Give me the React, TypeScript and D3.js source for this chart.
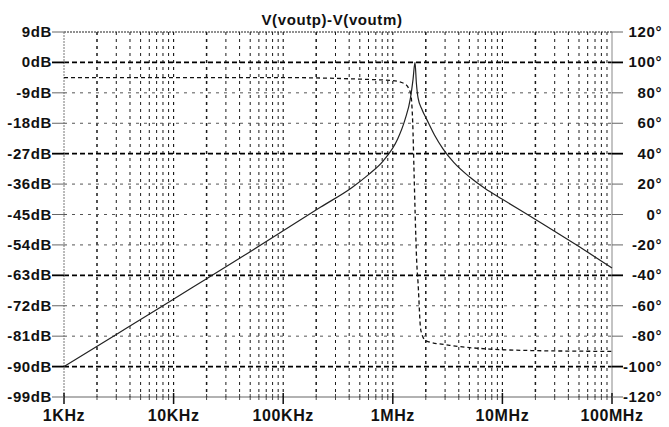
import React, { useEffect, useRef } from 'react';
import * as d3 from 'd3';

// values
const magFreq = [1e3, 3e3, 8e3, 2e4, 5e4, 1e5, 2.2e5, 4.25e5, 6e5, 8.15e5, 1.11e6, 1.29e6, 1.45e6, 1.53e6, 1.594e6, 1.64e6, 1.7e6, 1.85e6, 2.05e6, 2.4e6, 2.87e6, 3.6e6, 5.06e6, 7e6, 1e7, 2.34e7, 5e7, 1e8];
const magDb = [-90, -80.5, -72, -64, -56, -49.8, -42.8, -37, -33.2, -29.2, -22.6, -17, -10.5, -5, 0, -6, -10.5, -14, -17, -21.5, -25.6, -29.6, -34, -37.4, -40.5, -47.8, -54.5, -60.8];

const phaseFreq = [1e3, 1e5, 5e5, 1e6, 1.28e6, 1.45e6, 1.52e6, 1.56e6, 1.6e6, 1.65e6, 1.7e6, 1.8e6, 2e6, 3.3e6, 7.7e6, 2e7, 1e8];
const phaseDeg = [90, 90, 89, 88, 86, 80, 60, 30, 0, -30, -45, -76, -83, -86, -88.5, -89.5, -90];

const dbTicks = [9, 0, -9, -18, -27, -36, -45, -54, -63, -72, -81, -90, -99];
const degTicks = [120, 100, 80, 60, 40, 20, 0, -20, -40, -60, -80, -100, -120];
const heavyDb = [0, -27, -63, -90];
const freqDecades = [1e3, 1e4, 1e5, 1e6, 1e7, 1e8];
const freqLabels = ['1KHz', '10KHz', '100KHz', '1MHz', '10MHz', '100MHz'];
const title = 'V(voutp)-V(voutm)';

const W = 669, H = 427;
const left = 64, right = 612, top = 32, bottom = 397;
const font = '"Liberation Sans", Arial, sans-serif';

export default function App() {
	const node = useRef<SVGSVGElement>(null);

	useEffect(() => {
		const svg = d3.select(node.current);
		svg.selectAll('*').remove();

		const x = d3.scaleLog().domain([1e3, 1e8]).range([left, right]);
		const yDb = d3.scaleLinear().domain([-99, 9]).range([bottom, top]);
		const yDeg = d3.scaleLinear().domain([-120, 120]).range([bottom, top]);

		svg.append('rect').attr('width', W).attr('height', H).attr('fill', '#fff');

		// minor log positions 2..9 in each decade
		const minors: number[] = [];
		freqDecades.slice(0, -1).forEach(d => {
			for (let m = 2; m <= 9; m++) minors.push(d * m);
		});

		const grid = svg.append('g');

		grid.selectAll('.vminor')
			.data(minors)
			.enter().append('line')
			.attr('x1', d => x(d)).attr('x2', d => x(d))
			.attr('y1', top).attr('y2', bottom)
			.attr('stroke', '#1a1a1a')
			.attr('stroke-width', d => (Math.round(d / Math.pow(10, Math.floor(Math.log10(d)))) === 2 ? 1.5 : 1))
			.attr('stroke-dasharray', '3,4');

		grid.selectAll('.vmajor')
			.data(freqDecades.slice(1, -1))
			.enter().append('line')
			.attr('x1', d => x(d)).attr('x2', d => x(d))
			.attr('y1', top).attr('y2', bottom)
			.attr('stroke', '#111')
			.attr('stroke-width', 1.1)
			.attr('stroke-dasharray', '3,4');

		grid.selectAll('.hgrid')
			.data(dbTicks.slice(1, -1))
			.enter().append('line')
			.attr('x1', left).attr('x2', right)
			.attr('y1', d => yDb(d)).attr('y2', d => yDb(d))
			.attr('stroke', d => (heavyDb.includes(d) ? '#000' : '#555'))
			.attr('stroke-width', d => (heavyDb.includes(d) ? 1.6 : 1))
			.attr('stroke-dasharray', d => (heavyDb.includes(d) ? '5,3' : '3,5'));

		// frame
		svg.append('line').attr('x1', left).attr('x2', right).attr('y1', top).attr('y2', top)
			.attr('stroke', '#222').attr('stroke-width', 1.2).attr('stroke-dasharray', '2,1');
		svg.append('line').attr('x1', left).attr('x2', right).attr('y1', bottom).attr('y2', bottom)
			.attr('stroke', '#666').attr('stroke-width', 1.2);
		svg.append('line').attr('x1', left).attr('x2', left).attr('y1', top).attr('y2', bottom)
			.attr('stroke', '#777').attr('stroke-width', 1).attr('stroke-dasharray', '2,1');
		svg.append('line').attr('x1', right).attr('x2', right).attr('y1', top).attr('y2', bottom)
			.attr('stroke', '#888').attr('stroke-width', 1);

		// bottom ticks
		svg.selectAll('.xminor')
			.data(minors)
			.enter().append('line')
			.attr('x1', d => x(d)).attr('x2', d => x(d))
			.attr('y1', bottom - 3).attr('y2', bottom + 3)
			.attr('stroke', '#444');
		svg.selectAll('.xmajor')
			.data(freqDecades)
			.enter().append('line')
			.attr('x1', d => x(d)).attr('x2', d => x(d))
			.attr('y1', bottom - 4).attr('y2', bottom + 7)
			.attr('stroke', '#111').attr('stroke-width', 1.5);

		svg.selectAll('.xlabel')
			.data(freqDecades)
			.enter().append('text')
			.attr('x', d => x(d)).attr('y', 421)
			.attr('text-anchor', 'middle')
			.style('font', `bold 16px ${font}`)
			.style('letter-spacing', '0.6px')
			.attr('fill', '#111')
			.text((d, i) => freqLabels[i]);

		// left axis
		svg.selectAll('.ltick')
			.data(dbTicks)
			.enter().append('line')
			.attr('x1', 52).attr('x2', left)
			.attr('y1', d => yDb(d)).attr('y2', d => yDb(d))
			.attr('stroke', d => (heavyDb.includes(d) ? '#000' : '#666'))
			.attr('stroke-width', d => (heavyDb.includes(d) ? 1.8 : 1));
		svg.selectAll('.llabel')
			.data(dbTicks)
			.enter().append('text')
			.attr('x', 52).attr('y', d => yDb(d) + 5)
			.attr('text-anchor', 'end')
			.style('font', `bold 15px ${font}`)
			.style('letter-spacing', '0.6px')
			.attr('fill', '#111')
			.text(d => d + 'dB');

		// right axis
		svg.selectAll('.rtick')
			.data(degTicks)
			.enter().append('line')
			.attr('x1', right).attr('x2', 623)
			.attr('y1', d => yDeg(d)).attr('y2', d => yDeg(d))
			.attr('stroke', (d, i) => (heavyDb.includes(dbTicks[i]) ? '#000' : '#666'))
			.attr('stroke-width', (d, i) => (heavyDb.includes(dbTicks[i]) ? 1.8 : 1));
		svg.selectAll('.rlabel')
			.data(degTicks)
			.enter().append('text')
			.attr('x', 662).attr('y', d => yDeg(d) + 5)
			.attr('text-anchor', 'end')
			.style('font', `bold 15px ${font}`)
			.style('letter-spacing', '0.6px')
			.attr('fill', '#111')
			.text(d => d + '°');

		svg.append('text')
			.attr('x', 332).attr('y', 25)
			.attr('text-anchor', 'middle')
			.style('font', `bold 15px ${font}`)
			.style('letter-spacing', '0.6px')
			.attr('fill', '#111')
			.text(title);

		// traces
		const magLine = d3.line<number>()
			.x((d, i) => x(magFreq[i]))
			.y(d => yDb(d))
			.curve(d3.curveMonotoneX);
		const phaseLine = d3.line<number>()
			.x((d, i) => x(phaseFreq[i]))
			.y(d => yDeg(d))
			.curve(d3.curveMonotoneX);

		svg.append('path')
			.attr('d', phaseLine(phaseDeg))
			.attr('fill', 'none')
			.attr('stroke', '#111')
			.attr('stroke-width', 1.3)
			.attr('stroke-dasharray', '4,3');

		svg.append('path')
			.attr('d', magLine(magDb))
			.attr('fill', 'none')
			.attr('stroke', '#222')
			.attr('stroke-width', 1.2);
	}, []);

	return (
		<svg ref={node} width={W} height={H}
			style={{ position: 'absolute', left: 0, top: 0, display: 'block' }} />
	);
}
